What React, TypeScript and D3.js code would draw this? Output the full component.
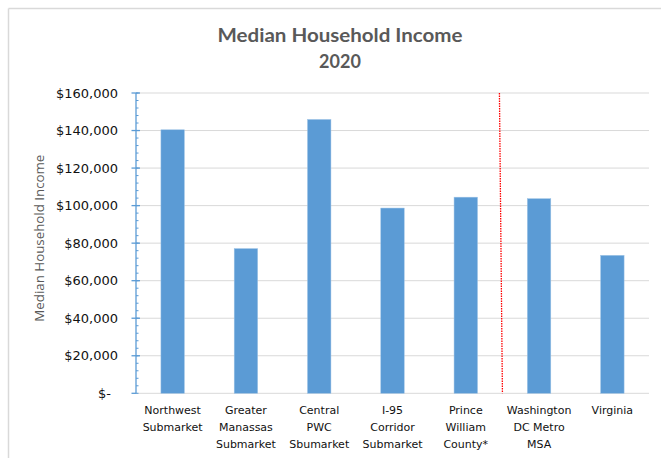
import React, { useEffect } from "react";
import * as d3 from "d3";

const categories: string[][] = [
  ["Northwest", "Submarket"],
  ["Greater", "Manassas", "Submarket"],
  ["Central", "PWC", "Sbumarket"],
  ["I-95", "Corridor", "Submarket"],
  ["Prince", "William", "County*"],
  ["Washington", "DC Metro", "MSA"],
  ["Virginia"],
];
const values: number[] = [140400, 77100, 145900, 98700, 104500, 103700, 73500];
const yTicks: number[] = [0, 20000, 40000, 60000, 80000, 100000, 120000, 140000, 160000];
const minorTicks: number[] = d3.range(0, 160001, 4000);
const titleLines: string[] = ["Median Household Income", "2020"];
const yAxisTitle = "Median Household Income";
const dividerAfterIndex = 5;

const W = 661;
const H = 458;
const left = 136;
const right = 649;
const top = 93;
const bottom = 393.3;

export default function App() {
  useEffect(() => {
    document.body.style.margin = "0";
  }, []);

  const ids = categories.map((_, i) => String(i));
  const x = d3
    .scaleBand<string>()
    .domain(ids)
    .range([left, right])
    .paddingInner(0.68)
    .paddingOuter(0.34);
  const y = d3.scaleLinear().domain([0, 160000]).range([bottom, top]);
  const fmt = d3.format(",");
  const tickLabel = (v: number) => (v === 0 ? "$-" : "$" + fmt(v));

  const dividerX = left + x.step() * dividerAfterIndex;

  const fontTick = "'DejaVu Sans', sans-serif";

  return (
    <svg width={W} height={H} style={{ display: "block", background: "#fff" }}>
      {/* frame */}
      <line x1={8.5} y1={8.5} x2={W} y2={8.5} stroke="#D9D9D9" strokeWidth={1.5} />
      <line x1={8.5} y1={8.5} x2={8.5} y2={H} stroke="#D9D9D9" strokeWidth={1.5} />

      {/* title */}
      <text
        x={340}
        y={41.5}
        textAnchor="middle"
        fontFamily="Lato, sans-serif"
        fontWeight="bold"
        fontSize={18}
        fill="#595959"
        textLength={245}
        lengthAdjust="spacingAndGlyphs"
      >
        {titleLines[0]}
      </text>
      <text
        x={340}
        y={68}
        textAnchor="middle"
        fontFamily="Lato, sans-serif"
        fontWeight="bold"
        fontSize={18}
        fill="#595959"
      >
        {titleLines[1]}
      </text>

      {/* gridlines */}
      {yTicks.map((t) => (
        <line
          key={"g" + t}
          x1={left}
          x2={right}
          y1={y(t)}
          y2={y(t)}
          stroke="#D9D9D9"
          strokeWidth={1}
        />
      ))}

      {/* bars */}
      {values.map((v, i) => (
        <rect
          key={"b" + i}
          x={x(String(i))}
          y={y(v)}
          width={x.bandwidth()}
          height={y(0) - y(v)}
          fill="#5B9BD5"
          stroke="#9DC3E6"
          strokeWidth={0.5}
        />
      ))}

      {/* divider */}
      <line
        x1={dividerX - 3}
        y1={top}
        x2={dividerX}
        y2={bottom}
        stroke="#FF0000"
        strokeWidth={1.3}
        strokeDasharray="1.5,1"
      />

      {/* y axis */}
      <line x1={left} x2={left} y1={top} y2={bottom} stroke="#5B9BD5" strokeWidth={1.3} />
      {minorTicks.map((t) => (
        <line
          key={"m" + t}
          x1={left}
          x2={left + 2.5}
          y1={y(t)}
          y2={y(t)}
          stroke="#5B9BD5"
          strokeWidth={1}
        />
      ))}
      {yTicks.map((t) => (
        <line
          key={"M" + t}
          x1={left - 4.5}
          x2={t === 0 ? left : left + 4}
          y1={y(t)}
          y2={y(t)}
          stroke="#5B9BD5"
          strokeWidth={1.3}
        />
      ))}
      {yTicks.map((t) => (
        <text
          key={"l" + t}
          x={t === 0 ? 111 : 118}
          y={y(t) + 4.6}
          textAnchor="end"
          fontFamily={fontTick}
          fontSize={13}
          fill="#111"
        >
          {tickLabel(t)}
        </text>
      ))}

      {/* y axis title */}
      <text
        transform={`translate(44, ${(top + bottom) / 2 - 5}) rotate(-90)`}
        textAnchor="middle"
        fontFamily="'Open Sans', sans-serif"
        fontSize={12.5}
        fill="#595959"
        textLength={167}
        lengthAdjust="spacingAndGlyphs"
      >
        {yAxisTitle}
      </text>

      {/* x labels */}
      {categories.map((lines, i) => (
        <text
          key={"x" + i}
          x={(x(String(i)) as number) + x.bandwidth() / 2}
          y={414}
          textAnchor="middle"
          fontFamily={fontTick}
          fontSize={11}
          fill="#111"
        >
          {lines.map((ln, j) => (
            <tspan key={j} x={(x(String(i)) as number) + x.bandwidth() / 2} dy={j === 0 ? 0 : 17}>
              {ln}
            </tspan>
          ))}
        </text>
      ))}
    </svg>
  );
}
